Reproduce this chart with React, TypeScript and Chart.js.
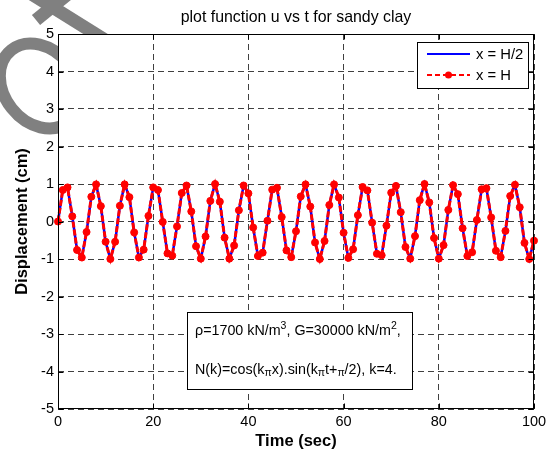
import React, { useEffect, useRef } from "react";
import { Chart, registerables } from "chart.js";

Chart.register(...registerables);

const FONT = "'Liberation Sans', Arial, Helvetica, sans-serif";

const titleText = "plot function u vs t for sandy clay";
const xAxisTitle = "Time (sec)";
const yAxisTitle = "Displacement (cm)";
const seriesLabels = ["x = H/2", "x = H"];
const seriesColors = ["#0000ff", "#ff0000"];
const xTicks = [0, 20, 40, 60, 80, 100];
const yTicks = [-5, -4, -3, -2, -1, 0, 1, 2, 3, 4, 5];

const timeSec = [
  0, 1, 2, 3, 4, 5, 6, 7, 8, 9, 10, 11, 12, 13, 14, 15, 16, 17, 18, 19, 20,
  21, 22, 23, 24, 25, 26, 27, 28, 29, 30, 31, 32, 33, 34, 35, 36, 37, 38, 39, 40,
  41, 42, 43, 44, 45, 46, 47, 48, 49, 50, 51, 52, 53, 54, 55, 56, 57, 58, 59, 60,
  61, 62, 63, 64, 65, 66, 67, 68, 69, 70, 71, 72, 73, 74, 75, 76, 77, 78, 79, 80,
  81, 82, 83, 84, 85, 86, 87, 88, 89, 90, 91, 92, 93, 94, 95, 96, 97, 98, 99, 100,
];

const uHalf = [
  0.0, 0.84, 0.91, 0.14, -0.76, -0.96, -0.28, 0.66, 0.99, 0.41, -0.54,
  -1.0, -0.54, 0.42, 0.99, 0.65, -0.29, -0.96, -0.75, 0.15, 0.91,
  0.84, -0.01, -0.85, -0.91, -0.13, 0.76, 0.96, 0.27, -0.66, -0.99,
  -0.4, 0.55, 1.0, 0.53, -0.43, -0.99, -0.64, 0.3, 0.96, 0.75,
  -0.16, -0.92, -0.83, 0.02, 0.85, 0.9, 0.12, -0.77, -0.95, -0.26,
  0.67, 0.99, 0.4, -0.56, -1.0, -0.52, 0.44, 0.99, 0.64, -0.3,
  -0.97, -0.74, 0.17, 0.92, 0.83, -0.03, -0.86, -0.9, -0.11, 0.77,
  0.95, 0.25, -0.68, -0.99, -0.39, 0.57, 1.0, 0.51, -0.44, -0.99,
  -0.63, 0.31, 0.97, 0.73, -0.18, -0.92, -0.82, 0.04, 0.86, 0.89,
  0.11, -0.78, -0.95, -0.25, 0.68, 0.98, 0.38, -0.57, -1.0, -0.51,
];

const uFull = [
  0.0, 0.84, 0.91, 0.14, -0.76, -0.96, -0.28, 0.66, 0.99, 0.41, -0.54,
  -1.0, -0.54, 0.42, 0.99, 0.65, -0.29, -0.96, -0.75, 0.15, 0.91,
  0.84, -0.01, -0.85, -0.91, -0.13, 0.76, 0.96, 0.27, -0.66, -0.99,
  -0.4, 0.55, 1.0, 0.53, -0.43, -0.99, -0.64, 0.3, 0.96, 0.75,
  -0.16, -0.92, -0.83, 0.02, 0.85, 0.9, 0.12, -0.77, -0.95, -0.26,
  0.67, 0.99, 0.4, -0.56, -1.0, -0.52, 0.44, 0.99, 0.64, -0.3,
  -0.97, -0.74, 0.17, 0.92, 0.83, -0.03, -0.86, -0.9, -0.11, 0.77,
  0.95, 0.25, -0.68, -0.99, -0.39, 0.57, 1.0, 0.51, -0.44, -0.99,
  -0.63, 0.31, 0.97, 0.73, -0.18, -0.92, -0.82, 0.04, 0.86, 0.89,
  0.11, -0.78, -0.95, -0.25, 0.68, 0.98, 0.38, -0.57, -1.0, -0.51,
];

type Seg = { t: string; sup?: boolean; sub?: boolean };
const noteLine1: Seg[] = [
  { t: "ρ=1700 kN/m" },
  { t: "3", sup: true },
  { t: ", G=30000 kN/m" },
  { t: "2", sup: true },
  { t: "," },
];
const noteLine2: Seg[] = [
  { t: "N(k)=cos(k" },
  { t: "π", sub: true },
  { t: "x).sin(k" },
  { t: "π", sub: true },
  { t: "t+" },
  { t: "π", sub: true },
  { t: "/2), k=4." },
];

function drawSegs(ctx: CanvasRenderingContext2D, segs: Seg[], x: number, y: number) {
  let cx = x;
  ctx.textBaseline = "middle";
  ctx.textAlign = "left";
  ctx.fillStyle = "#000";
  for (const s of segs) {
    if (s.sup || s.sub) {
      ctx.font = `10.5px ${FONT}`;
      const dy = s.sup ? -5 : 3;
      ctx.fillText(s.t, cx, y + dy);
      cx += ctx.measureText(s.t).width;
    } else {
      ctx.font = `14.3px ${FONT}`;
      ctx.fillText(s.t, cx, y);
      cx += ctx.measureText(s.t).width;
    }
  }
}

const decorPlugin = {
  id: "matlabDecor",
  beforeDraw(chart: any) {
    const ctx: CanvasRenderingContext2D = chart.ctx;
    const { left, top, right, bottom } = chart.chartArea;
    ctx.save();
    // watermark (gray symbol behind the axes)
    ctx.strokeStyle = "#808080";
    ctx.lineWidth = 12;
    ctx.beginPath();
    ctx.ellipse(40, 86, 46, 36, 0.9, 0, Math.PI * 2);
    ctx.stroke();
    ctx.lineCap = "butt";
    ctx.lineWidth = 13;
    ctx.beginPath();
    ctx.moveTo(25, -10);
    ctx.lineTo(110, 43);
    ctx.stroke();
    ctx.beginPath();
    ctx.moveTo(36, 20);
    ctx.lineTo(68, -6);
    ctx.stroke();
    // white axes background
    ctx.fillStyle = "#ffffff";
    ctx.fillRect(left, top, right - left, bottom - top);
    ctx.restore();
  },
  afterDraw(chart: any) {
    const ctx: CanvasRenderingContext2D = chart.ctx;
    const { left, top, right, bottom } = chart.chartArea;
    const xs = chart.scales.x;
    const ys = chart.scales.y;
    ctx.save();
    // box
    ctx.strokeStyle = "#000";
    ctx.lineWidth = 1;
    ctx.setLineDash([]);
    const L = Math.round(left) + 0.5;
    const R = Math.round(right) - 0.5;
    const T = Math.round(top) + 0.5;
    const B = Math.round(bottom) - 0.5;
    ctx.strokeRect(L, T, R - L, B - T);
    // inward ticks
    ctx.beginPath();
    for (const v of xTicks) {
      const px = Math.round(xs.getPixelForValue(v)) + 0.5;
      ctx.moveTo(px, B);
      ctx.lineTo(px, B - 5);
      ctx.moveTo(px, T);
      ctx.lineTo(px, T + 5);
    }
    for (const v of yTicks) {
      const py = Math.round(ys.getPixelForValue(v)) + 0.5;
      ctx.moveTo(L, py);
      ctx.lineTo(L + 5, py);
      ctx.moveTo(R, py);
      ctx.lineTo(R - 5, py);
    }
    ctx.stroke();

    // title
    ctx.fillStyle = "#000";
    ctx.font = `15.9px ${FONT}`;
    ctx.textAlign = "center";
    ctx.textBaseline = "middle";
    ctx.fillText(titleText, (left + right) / 2, 18);

    // legend box
    const lx = 417.5, ly = 42.5, lw = 111, lh = 46;
    ctx.fillStyle = "#fff";
    ctx.fillRect(lx, ly, lw, lh);
    ctx.strokeStyle = "#000";
    ctx.lineWidth = 1;
    ctx.strokeRect(lx, ly, lw, lh);
    const rows = [54, 75];
    chart.data.datasets.forEach((ds: any, i: number) => {
      const y = rows[i];
      ctx.save();
      ctx.strokeStyle = ds.borderColor;
      ctx.lineWidth = 2;
      ctx.setLineDash(ds.borderDash ? [5, 3] : []);
      ctx.beginPath();
      ctx.moveTo(427, y);
      ctx.lineTo(470, y);
      ctx.stroke();
      ctx.setLineDash([]);
      if (ds.pointRadius > 0) {
        ctx.fillStyle = ds.pointBackgroundColor;
        ctx.beginPath();
        ctx.arc(448.5, y, 3.5, 0, Math.PI * 2);
        ctx.fill();
      }
      ctx.restore();
      ctx.fillStyle = "#000";
      ctx.font = `14.8px ${FONT}`;
      ctx.textAlign = "left";
      ctx.textBaseline = "middle";
      ctx.fillText(ds.label, 476, y + 1);
    });

    // annotation box
    const ax = 187.5, ay = 312.5, aw = 225, ah = 77;
    ctx.fillStyle = "#fff";
    ctx.fillRect(ax, ay, aw, ah);
    ctx.strokeStyle = "#000";
    ctx.strokeRect(ax, ay, aw, ah);
    drawSegs(ctx, noteLine1, 195, 331);
    drawSegs(ctx, noteLine2, 195, 370);
    ctx.restore();
  },
};

export default function App() {
  const canvasRef = useRef<HTMLCanvasElement | null>(null);

  useEffect(() => {
    document.body.style.margin = "0";
    const canvas = canvasRef.current;
    if (!canvas) return;
    const chart = new Chart(canvas, {
      type: "line",
      data: {
        datasets: [
          {
            label: seriesLabels[0],
            data: timeSec.map((t, i) => ({ x: t, y: uHalf[i] })),
            borderColor: seriesColors[0],
            backgroundColor: seriesColors[0],
            borderWidth: 2.5,
            pointRadius: 0,
            tension: 0,
            order: 1,
            clip: false as any,
          },
          {
            label: seriesLabels[1],
            data: timeSec.map((t, i) => ({ x: t, y: uFull[i] })),
            borderColor: seriesColors[1],
            backgroundColor: seriesColors[1],
            borderWidth: 3,
            borderDash: [6, 2],
            pointRadius: 3.5,
            pointBackgroundColor: seriesColors[1],
            pointBorderColor: seriesColors[1],
            pointBorderWidth: 1,
            tension: 0,
            order: 0,
            clip: false as any,
          },
        ],
      },
      options: {
        animation: false,
        responsive: false,
        devicePixelRatio: 1,
        layout: { padding: { left: 0, right: 20, top: 34, bottom: 0 } },
        plugins: {
          legend: { display: false },
          tooltip: { enabled: false },
          title: { display: false },
        },
        scales: {
          x: {
            type: "linear",
            min: 0,
            max: 100,
            afterBuildTicks: (s: any) => {
              s.ticks = xTicks.map((v) => ({ value: v }));
            },
            afterFit: (s: any) => {
              s.height = 41;
            },
            ticks: {
              font: { family: FONT, size: 14.5 },
              color: "#000",
              padding: 4,
              maxRotation: 0,
              autoSkip: false,
            },
            grid: { color: "#404040", lineWidth: 1, drawTicks: false },
            border: { display: false, dash: [6, 4] },
            title: {
              display: true,
              text: xAxisTitle,
              font: { family: FONT, size: 16.5, weight: "bold", lineHeight: 1 },
              color: "#000",
              padding: { top: 0, bottom: 0 },
            },
          },
          y: {
            type: "linear",
            min: -5,
            max: 5,
            afterBuildTicks: (s: any) => {
              s.ticks = yTicks.map((v) => ({ value: v }));
            },
            afterFit: (s: any) => {
              s.width = 58;
            },
            ticks: {
              font: { family: FONT, size: 14.5 },
              color: "#000",
              padding: 4,
              autoSkip: false,
            },
            grid: { color: "#404040", lineWidth: 1, drawTicks: false },
            border: { display: false, dash: [6, 4] },
            title: {
              display: true,
              text: yAxisTitle,
              font: { family: FONT, size: 16.5, weight: "bold", lineHeight: 1 },
              color: "#000",
              padding: { top: 14, bottom: 0 },
            },
          },
        },
      },
      plugins: [decorPlugin],
    });
    return () => chart.destroy();
  }, []);

  return (
    <div style={{ width: 554, height: 450, background: "#fff" }}>
      <canvas ref={canvasRef} width={554} height={450} style={{ display: "block" }} />
    </div>
  );
}
